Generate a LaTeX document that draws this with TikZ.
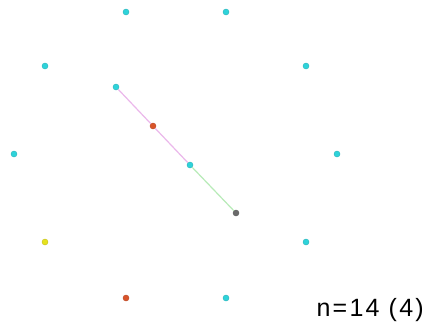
\documentclass[tikz,border=0pt]{standalone}
\usepackage{fontspec}
\setmainfont{Liberation Sans}
\newfontfamily\lblfont[LetterSpace=9]{Liberation Sans}
\definecolor{dcyan}{HTML}{2ED3DA}
\definecolor{dred}{HTML}{D9542A}
\definecolor{dyellow}{HTML}{E6E21E}
\definecolor{dgray}{HTML}{6A6A6A}
\definecolor{lpink}{HTML}{EBB8EB}
\definecolor{lgreen}{HTML}{B8EBB8}
\begin{document}
\begin{tikzpicture}[x=1pt,y=-1pt,
  dot/.style={circle,inner sep=0pt,minimum size=6pt,draw=#1!85!black,line width=0.4pt,fill=#1},
  edge/.style={line width=1.2pt,#1}]
\useasboundingbox (0,0) rectangle (427,324);
\fill[white] (0,0) rectangle (427,324);
% ring
\node[dot=dcyan] (r1) at (126,12) {};
\node[dot=dcyan] (r2) at (226,12) {};
\node[dot=dcyan] (r3) at (45,66) {};
\node[dot=dcyan] (r4) at (306,66) {};
\node[dot=dcyan] (r5) at (14,154) {};
\node[dot=dcyan] (r6) at (337,154) {};
\node[dot=dyellow] (r7) at (45,242) {};
\node[dot=dcyan] (r8) at (306,242) {};
\node[dot=dred] (r9) at (126,298) {};
\node[dot=dcyan] (r10) at (226,298) {};
% inner
\node[dot=dcyan] (a) at (116,87) {};
\node[dot=dred] (b) at (153,126) {};
\node[dot=dcyan] (c) at (190,165) {};
\node[dot=dgray] (d) at (236,213) {};
\draw[edge=lpink] (a) -- (b);
\draw[edge=lpink] (b) -- (c);
\draw[edge=lgreen] (c) -- (d);
\node[anchor=base west,inner sep=0pt,font=\lblfont\fontsize{25}{29}\selectfont] (lbl) at (316.3,316) {n=14 (4)};
\end{tikzpicture}
\end{document}
